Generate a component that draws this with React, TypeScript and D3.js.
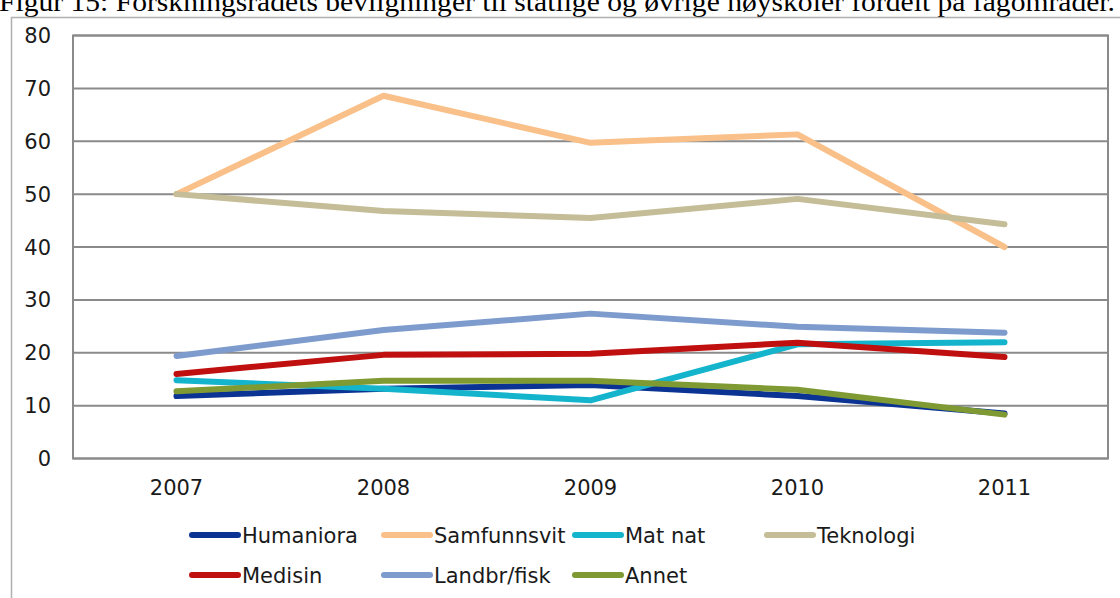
import React, { useEffect, useRef } from 'react';
import * as d3 from 'd3';

const title = 'Figur 15: Forskningsrådets bevilgninger til statlige og øvrige høyskoler fordelt på fagområder.';

const years = ['2007', '2008', '2009', '2010', '2011'];
const yTicks = [0, 10, 20, 30, 40, 50, 60, 70, 80];

const seriesNames = ['Humaniora', 'Samfunnsvit', 'Mat nat', 'Teknologi', 'Medisin', 'Landbr/fisk', 'Annet'];
const seriesColors = ['#0b3394', '#f9c089', '#14b5cc', '#c4bd97', '#c00f0f', '#7e9bcd', '#7f9a32'];

const humaniora = [11.8, 13.2, 13.9, 11.8, 8.5];
const samfunnsvit = [50.0, 68.6, 59.7, 61.3, 40.0];
const matNat = [14.8, 13.2, 11.0, 21.6, 22.0];
const teknologi = [50.0, 46.8, 45.5, 49.1, 44.3];
const medisin = [16.0, 19.6, 19.8, 21.9, 19.2];
const landbrFisk = [19.4, 24.3, 27.4, 24.9, 23.8];
const annet = [12.7, 14.7, 14.7, 13.0, 8.3];

const seriesValues = [humaniora, samfunnsvit, matNat, teknologi, medisin, landbrFisk, annet];

const App = () => {
  const ref = useRef<SVGSVGElement | null>(null);

  useEffect(() => {
    if (!ref.current) return;
    const svg = d3.select(ref.current);
    svg.selectAll('*').remove();

    const width = 1120;
    const height = 598;
    const plot = { left: 73, right: 1108, top: 35.5, bottom: 458.5 };
    const font = '"DejaVu Sans", Verdana, sans-serif';

    // title, cut by the top edge as in the scan
    svg.append('text')
      .attr('x', -1)
      .attr('y', 11)
      .attr('font-family', '"Liberation Serif", "Times New Roman", serif')
      .attr('font-size', 27)
      .attr('textLength', 1116)
      .attr('lengthAdjust', 'spacingAndGlyphs')
      .attr('fill', '#000')
      .text(title);

    // outer chart frame
    svg.append('path')
      .attr('d', `M11.5,${height} V17.5 H${width}`)
      .attr('fill', 'none')
      .attr('stroke', '#b0b0b0')
      .attr('stroke-width', 1.5);

    const x = d3.scaleBand().domain(years).range([plot.left, plot.right]);
    const cx = (d: string) => (x(d) as number) + x.bandwidth() / 2;
    const y = d3.scaleLinear().domain([0, 80]).range([plot.bottom, plot.top]);

    // gridlines
    svg.append('g')
      .selectAll('line')
      .data(yTicks)
      .join('line')
      .attr('x1', plot.left)
      .attr('x2', plot.right)
      .attr('y1', d => y(d))
      .attr('y2', d => y(d))
      .attr('stroke', '#8a8a8a')
      .attr('stroke-width', 2);

    // plot frame
    svg.append('rect')
      .attr('x', plot.left)
      .attr('y', plot.top)
      .attr('width', plot.right - plot.left)
      .attr('height', plot.bottom - plot.top)
      .attr('fill', 'none')
      .attr('stroke', '#8a8a8a')
      .attr('stroke-width', 2);

    // y tick labels
    svg.append('g')
      .selectAll('text')
      .data(yTicks)
      .join('text')
      .attr('x', 51)
      .attr('y', d => y(d))
      .attr('dy', '0.36em')
      .attr('text-anchor', 'end')
      .attr('font-family', font)
      .attr('font-size', 21)
      .attr('fill', '#1a1a1a')
      .text(d => d);

    // x tick labels
    svg.append('g')
      .selectAll('text')
      .data(years)
      .join('text')
      .attr('x', d => cx(d))
      .attr('y', 495)
      .attr('text-anchor', 'middle')
      .attr('font-family', font)
      .attr('font-size', 21)
      .attr('fill', '#1a1a1a')
      .text(d => d);

    // lines
    const line = d3.line<number>()
      .x((_, i) => cx(years[i]))
      .y(d => y(d));

    svg.append('g')
      .selectAll('path')
      .data(seriesValues)
      .join('path')
      .attr('d', d => line(d))
      .attr('fill', 'none')
      .attr('stroke', (_, i) => seriesColors[i])
      .attr('stroke-width', 6)
      .attr('stroke-linejoin', 'round')
      .attr('stroke-linecap', 'round');

    // legend
    const colX = [192, 384, 575, 767];
    const rowY = [535, 575];
    const legend = svg.append('g')
      .selectAll('g')
      .data(seriesNames)
      .join('g')
      .attr('transform', (_, i) => `translate(${colX[i % 4]},${rowY[Math.floor(i / 4)]})`);

    legend.append('line')
      .attr('x1', 0)
      .attr('x2', 46)
      .attr('stroke', (_, i) => seriesColors[i])
      .attr('stroke-width', 6)
      .attr('stroke-linecap', 'round');

    legend.append('text')
      .attr('x', 50)
      .attr('dy', '0.36em')
      .attr('font-family', font)
      .attr('font-size', 21)
      .attr('fill', '#1a1a1a')
      .text(d => d);
  }, []);

  return (
    <div style={{ position: 'fixed', top: 0, left: 0, width: 1120, height: 598, background: '#fff' }}>
      <svg ref={ref} width={1120} height={598} style={{ display: 'block' }} />
    </div>
  );
};

export default App;
